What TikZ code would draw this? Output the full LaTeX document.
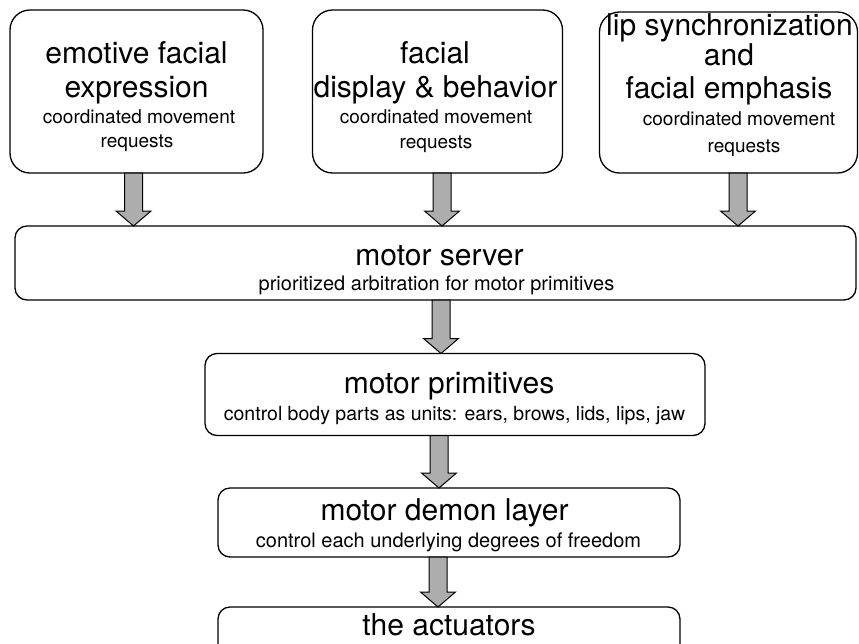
\documentclass[tikz,border=0pt]{standalone}
\usepackage{fontspec}
\setmainfont{TeX Gyre Heros}
\usetikzlibrary{calc}
\tikzset{
  box/.style={draw=black, line width=1.3pt, fill=white, rounded corners=12pt, inner sep=0pt, outer sep=0pt},
  topbox/.style={box, rounded corners=20pt},
  ttl/.style={anchor=base, inner sep=0pt, font=\fontsize{30}{34}\selectfont},
  sub/.style={anchor=base, inner sep=0pt, font=\fontsize{19}{23}\selectfont},
  subb/.style={anchor=base, inner sep=0pt, font=\fontsize{20}{24}\selectfont},
  blockarrow/.style={draw=black, line width=1pt, fill=black!32, line join=miter},
}
\newcommand\barrow[3]{%
  \draw[blockarrow] let \p1=(#2.south), \p2=(#3.north) in
    (#1pt-9pt,\y1) -- (#1pt+9pt,\y1) -- (#1pt+9pt,\y2+15pt) -- (#1pt+17.5pt,\y2+15pt)
    -- (#1pt,\y2) -- (#1pt-17.5pt,\y2+15pt) -- (#1pt-9pt,\y2+15pt) -- cycle;}
\begin{document}
\begin{tikzpicture}[x=1pt, y=-1pt]
\useasboundingbox (0,0) rectangle (859,643);
\clip (0,0) rectangle (859,643);
\fill[white] (0,0) rectangle (859,643);
% top boxes
\node[topbox, minimum width=253pt, minimum height=163pt] (b1) at (136.5,91.5) {};
\node[topbox, minimum width=250pt, minimum height=163pt] (b2) at (437.5,91.5) {};
\node[topbox, minimum width=258pt, minimum height=161pt] (b3) at (728.5,92.5) {};
% middle boxes
\node[box, minimum width=841pt, minimum height=74pt] (ms) at (435.5,263) {};
\node[box, minimum width=500pt, minimum height=82pt] (mp) at (455,394.5) {};
\node[box, minimum width=462pt, minimum height=69pt] (md) at (449,522.5) {};
\node[box, minimum width=462pt, minimum height=70pt] (ac) at (449,642) {};
% texts box 1
\node[ttl] (t1a) at (136.5,63) {emotive facial};
\node[ttl] (t1b) at (136.5,97) {expression};
\node[sub] (t1c) at (139,123) {coordinated movement};
\node[sub] (t1d) at (137,147) {requests};
% texts box 2
\node[ttl] (t2a) at (435,63) {facial};
\node[ttl] (t2b) at (435.5,97) {display \& behavior};
\node[sub] (t2c) at (436,123) {coordinated movement};
\node[sub] (t2d) at (436,148) {requests};
% texts box 3
\node[ttl] (t3a) at (729.5,35) {lip synchronization};
\node[ttl] (t3b) at (729,65) {and};
\node[ttl] (t3c) at (729,98) {facial emphasis};
\node[sub] (t3d) at (739,125) {coordinated movement};
\node[sub] (t3e) at (744,152) {requests};
% motor server
\node[ttl] (tms) at (439.5,265) {motor server};
\node[subb] (tms2) at (436.5,290) {prioritized arbitration for motor primitives};
% motor primitives
\node[ttl] (tmp) at (449,393) {motor primitives};
\node[sub, font=\fontsize{19.5}{23}\selectfont] (tmp2) at (454.5,420) {control body parts as units: ears, brows, lids, lips, jaw};
% motor demon
\node[ttl] (tmd) at (444.5,520) {motor demon layer};
\node[subb] (tmd2) at (448.5,547) {control each underlying degrees of freedom};
% actuators
\node[ttl] (tac) at (449,635) {the actuators};
% arrows
\barrow{133.5}{b1}{ms}
\barrow{442}{b2}{ms}
\barrow{738}{b3}{ms}
\barrow{441}{ms}{mp}
\barrow{439}{mp}{md}
\barrow{438}{md}{ac}
\end{tikzpicture}
\end{document}
